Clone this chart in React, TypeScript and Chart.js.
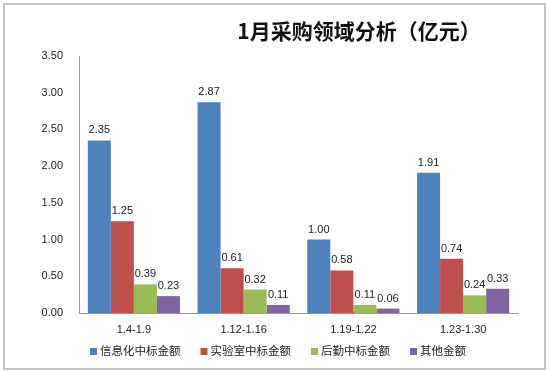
import React, { useEffect, useRef } from "react";
import { Chart, registerables } from "chart.js";

Chart.register(...registerables);

const categories = ["1.4-1.9", "1.12-1.16", "1.19-1.22", "1.23-1.30"];
const seriesNames = ["信息化中标金额", "实验室中标金额", "后勤中标金额", "其他金额"];
const infoValues = [2.35, 2.87, 1.0, 1.91];
const labValues = [1.25, 0.61, 0.58, 0.74];
const logisticsValues = [0.39, 0.32, 0.11, 0.24];
const otherValues = [0.23, 0.11, 0.06, 0.33];
const seriesColors = ["#4F81BD", "#C0504D", "#9BBB59", "#8064A2"];
const titleText = "1月采购领域分析（亿元）";

const NUM_FONT = '"Liberation Sans", Arial, sans-serif';
const CJK_FONT = '"Noto Sans CJK SC", sans-serif';

const decorPlugin = {
  id: "decor",
  beforeDraw(chart: any) {
    const ctx = chart.ctx;
    ctx.save();
    ctx.fillStyle = "#ffffff";
    ctx.fillRect(0, 0, chart.width, chart.height);
    ctx.strokeStyle = "#c4c4c4";
    ctx.lineWidth = 2;
    ctx.strokeRect(4, 4, 541, 365);
    ctx.restore();
  },
  afterDatasetsDraw(chart: any) {
    const ctx = chart.ctx;
    ctx.save();
    ctx.font = `11px ${NUM_FONT}`;
    ctx.fillStyle = "#222";
    ctx.textAlign = "center";
    ctx.textBaseline = "alphabetic";
    chart.data.datasets.forEach((ds: any, i: number) => {
      const meta = chart.getDatasetMeta(i);
      meta.data.forEach((bar: any, j: number) => {
        const v = ds.data[j] as number;
        ctx.fillText(v.toFixed(2), bar.x, bar.y - 7);
      });
    });
    ctx.restore();
  },
  afterDraw(chart: any) {
    const ctx = chart.ctx;
    ctx.save();
    // title
    ctx.font = `bold 21px ${CJK_FONT}`;
    ctx.fillStyle = "#111";
    ctx.textAlign = "center";
    ctx.textBaseline = "middle";
    ctx.fillText(titleText, 359, 31);
    // legend
    ctx.font = `11.5px ${CJK_FONT}`;
    const box = 7;
    const gapText = 10;
    const gapItem = 20;
    const widths = seriesNames.map((n) => ctx.measureText(n).width);
    let total = 0;
    widths.forEach((w, i) => {
      total += gapText + w + (i < widths.length - 1 ? gapItem : 0);
    });
    let x = Math.round(chart.width / 2 - total / 2) + 3;
    const y = 351;
    ctx.textAlign = "left";
    seriesNames.forEach((n, i) => {
      ctx.fillStyle = seriesColors[i];
      ctx.fillRect(x, y - 3, box, box);
      ctx.fillStyle = "#222";
      ctx.fillText(n, x + gapText, y);
      x += gapText + widths[i] + gapItem;
    });
    ctx.restore();
  },
};

export default function App() {
  const ref = useRef<HTMLCanvasElement>(null);
  useEffect(() => {
    document.body.style.margin = "0";
    const values = [infoValues, labValues, logisticsValues, otherValues];
    const chart = new Chart(ref.current as HTMLCanvasElement, {
      type: "bar",
      data: {
        labels: categories,
        datasets: seriesNames.map((name, i) => ({
          label: name,
          data: values[i],
          backgroundColor: seriesColors[i],
          borderWidth: 0,
          categoryPercentage: 0.84,
          barPercentage: 1.0,
        })),
      },
      options: {
        responsive: false,
        animation: false,
        maintainAspectRatio: false,
        layout: { padding: { top: 56, right: 32, bottom: 0, left: 0 } },
        plugins: {
          legend: { display: false },
          title: { display: false },
          tooltip: { enabled: false },
        },
        scales: {
          x: {
            grid: { display: false, drawTicks: false },
            border: { display: true, color: "#9a9a9a", width: 1 },
            ticks: {
              padding: 10,
              color: "#222",
              font: { size: 11, family: NUM_FONT },
              maxRotation: 0,
            },
            afterFit(scale: any) {
              scale.height = 59;
            },
          },
          y: {
            min: 0,
            max: 3.5,
            grid: { display: false, drawTicks: false },
            border: { display: true, color: "#9a9a9a", width: 1 },
            ticks: {
              stepSize: 0.5,
              padding: 16,
              color: "#222",
              font: { size: 11, family: NUM_FONT },
              callback: (v: any) => Number(v).toFixed(2),
            },
            afterFit(scale: any) {
              scale.width = 79;
            },
          },
        },
      },
      plugins: [decorPlugin],
    });
    return () => chart.destroy();
  }, []);
  return (
    <div style={{ width: 550, height: 372 }}>
      <canvas ref={ref} width={550} height={372} style={{ display: "block" }} />
    </div>
  );
}
